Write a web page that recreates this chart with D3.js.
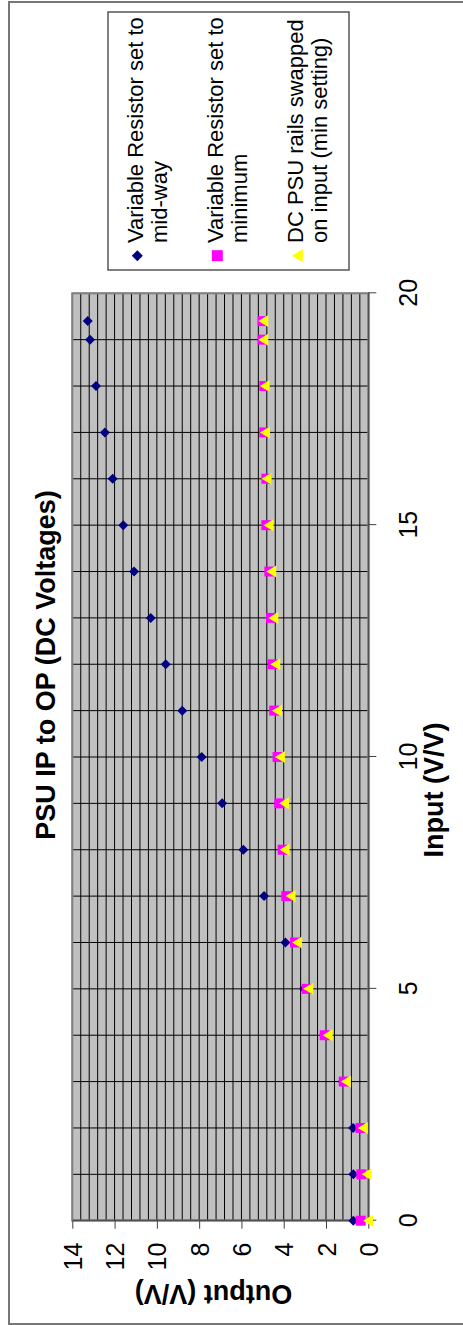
<!DOCTYPE html>
<html>
<head>
<meta charset="utf-8">
<script src="https://cdn.jsdelivr.net/npm/d3@7"></script>
<style>
body{margin:0;background:#fff;}
svg{display:block;}
text{font-family:"Liberation Sans",Arial,sans-serif;fill:#000;}
</style>
</head>
<body>
<div class="chart"></div>
<script>
// readings (input volts -> output volts)
var inputs  = [0, 1, 2, 3, 4, 5, 6, 7, 8, 9, 10, 11, 12, 13, 14, 15, 16, 17, 18, 19, 19.4];
var midway  = [0.71, 0.71, 0.72, 1.21, 2.05, 3.03, 3.92, 4.93, 5.91, 6.91, 7.88, 8.80, 9.58, 10.29, 11.08, 11.59, 12.09, 12.46, 12.88, 13.16, 13.27];
var minimum = [0.36, 0.33, 0.37, 1.16, 2.06, 2.91, 3.47, 3.88, 4.05, 4.21, 4.29, 4.45, 4.52, 4.60, 4.68, 4.82, 4.82, 4.92, 4.92, 5.00, 5.00];
var swapped = [0.01, 0.08, 0.26, 1.06, 1.92, 2.84, 3.37, 3.68, 3.96, 3.98, 4.18, 4.32, 4.40, 4.49, 4.59, 4.72, 4.81, 4.89, 4.90, 4.97, 4.97];

var xTicks = [0, 5, 10, 15, 20];
var yTicks = [0, 2, 4, 6, 8, 10, 12, 14];
var legendLines = [
	["Variable Resistor set to", "mid-way"],
	["Variable Resistor set to", "minimum"],
	["DC PSU rails swapped", "on input (min setting)"]
];
var seriesColors = ["#000080", "#ff00ff", "#ffff00"];

//the chart is laid out normally (1325 wide) and then turned on its side
var svg = d3.select(".chart").append("svg")
	.attr("width", 463)
	.attr("height", 1325);
var g = svg.append("g").attr("transform", "translate(0,1325) rotate(-90)");

var plot = {left: 104.3, right: 1031.7, top: 72.3, bottom: 368.3};

var x = d3.scaleLinear().domain([0, 20]).range([plot.left, plot.right]);
var y = d3.scaleLinear().domain([0, 14]).range([plot.bottom, plot.top]);

//outer chart border
g.append("rect")
	.attr("x", 1).attr("y", 9)
	.attr("width", 1322).attr("height", 470)
	.attr("fill", "#fff")
	.attr("stroke", "#777")
	.attr("stroke-width", 2);

//plot background
g.append("rect")
	.attr("x", plot.left).attr("y", plot.top)
	.attr("width", plot.right - plot.left).attr("height", plot.bottom - plot.top)
	.attr("fill", "#c0c0c0");

//gridlines: every 1 on input, every 0.4 on output
g.append("g").selectAll("line")
	.data(d3.range(0, 20.001, 1))
	.enter().append("line")
	.attr("x1", function(d){ return x(d); })
	.attr("x2", function(d){ return x(d); })
	.attr("y1", plot.top).attr("y2", plot.bottom)
	.attr("stroke", "#000").attr("stroke-width", 1);

g.append("g").selectAll("line")
	.data(d3.range(0, 14.001, 0.4))
	.enter().append("line")
	.attr("y1", function(d){ return y(d); })
	.attr("y2", function(d){ return y(d); })
	.attr("x1", plot.left).attr("x2", plot.right)
	.attr("stroke", "#000").attr("stroke-width", 1);

g.append("rect")
	.attr("x", plot.left).attr("y", plot.top)
	.attr("width", plot.right - plot.left).attr("height", plot.bottom - plot.top)
	.attr("fill", "none")
	.attr("stroke", "#808080")
	.attr("stroke-width", 2);

//axes
var xAxis = g.append("g")
	.attr("transform", "translate(0," + plot.bottom + ")")
	.call(d3.axisBottom(x).tickValues(xTicks).tickSize(8).tickSizeOuter(0));
xAxis.selectAll("text")
	.attr("y", 48.5).attr("dy", 0)
	.style("font-size", "25px");

var yAxis = g.append("g")
	.attr("transform", "translate(" + plot.left + ",0)")
	.call(d3.axisLeft(y).tickValues(yTicks).tickSize(8).tickSizeOuter(0));
yAxis.selectAll("text")
	.attr("x", -22).attr("dy", "0.36em")
	.style("font-size", "25px");

g.selectAll(".domain").attr("stroke", "#505050").attr("stroke-width", 1.5);
g.selectAll(".tick line").attr("stroke", "#404040");

//markers
var diamond = "M0,-5L5,0L0,5L-5,0Z";
var square = "M-5,-5L5,-5L5,5L-5,5Z";
var triangle = "M0,-5L6,5L-6,5Z";
var shapes = [diamond, square, triangle];
var series = [midway, minimum, swapped];

series.forEach(function(vals, s){
	g.append("g").selectAll("path")
		.data(vals)
		.enter().append("path")
		.attr("d", shapes[s])
		.attr("transform", function(d, i){
			return "translate(" + x(inputs[i]) + "," + y(d) + ")";
		})
		.attr("fill", seriesColors[s]);
});

//titles
g.append("text")
	.text("PSU IP to OP (DC Voltages)")
	.attr("x", 660).attr("y", 55)
	.attr("text-anchor", "middle")
	.style("font-size", "27px")
	.style("font-weight", "bold");

g.append("text")
	.text("Input (V/V)")
	.attr("x", 535).attr("y", 443)
	.attr("text-anchor", "middle")
	.style("font-size", "27px")
	.style("font-weight", "bold");

g.append("text")
	.text("Output (V/V)")
	.attr("transform", "translate(40,213.5) rotate(-90)")
	.attr("text-anchor", "middle")
	.style("font-size", "27px")
	.style("font-weight", "bold");

//legend
var legend = g.append("g");
legend.append("rect")
	.attr("x", 1055).attr("y", 108)
	.attr("width", 258).attr("height", 241)
	.attr("fill", "#fff")
	.attr("stroke", "#555")
	.attr("stroke-width", 1.5);

legendLines.forEach(function(lines, i){
	legend.append("path")
		.attr("d", shapes[i])
		.attr("transform", "translate(1069.3," + (137.3 + 80 * i) + ") scale(1.1)")
		.attr("fill", seriesColors[i]);
	lines.forEach(function(t, j){
		legend.append("text")
			.text(t)
			.attr("x", 1082)
			.attr("y", 143.3 + 80 * i + 24 * j)
			.style("font-size", "22px");
	});
});
</script>
</body>
</html>
